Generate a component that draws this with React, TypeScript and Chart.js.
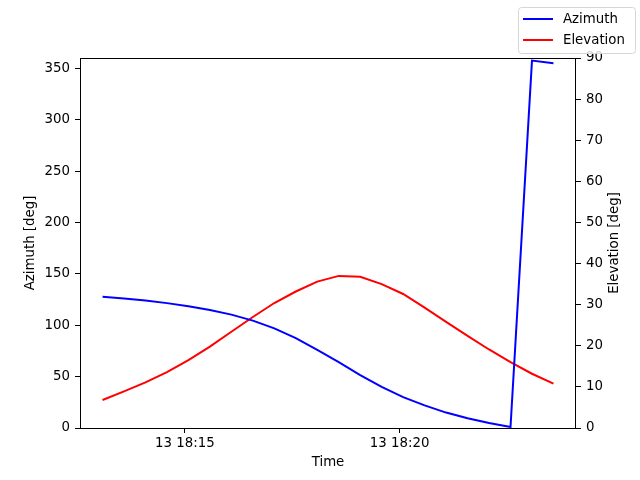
import React, { useEffect, useRef } from 'react';
import Chart from 'chart.js/auto';

// sample times (day 13), every 30 s
const times = [
  '18:13:05', '18:13:35', '18:14:05', '18:14:35', '18:15:05', '18:15:35',
  '18:16:05', '18:16:35', '18:17:05', '18:17:35', '18:18:05', '18:18:35',
  '18:19:05', '18:19:35', '18:20:05', '18:20:35', '18:21:05', '18:21:35',
  '18:22:05', '18:22:35', '18:23:05', '18:23:35'
];
const azimuth = [
  127.7, 126.0, 124.0, 121.5, 118.5, 114.8, 110.3, 104.5, 97.0, 87.5, 76.0,
  64.0, 51.5, 40.0, 30.0, 22.0, 15.0, 9.5, 4.8, 1.0, 357.5, 355.0
];
const elevation = [
  6.8, 8.9, 11.1, 13.6, 16.5, 19.8, 23.4, 27.0, 30.4, 33.2, 35.6,
  37.0, 36.8, 35.0, 32.6, 29.3, 25.8, 22.4, 19.1, 16.0, 13.2, 10.8
];
const xTicks = ['18:15', '18:20'];
const dayLabel = '13';
const azTicks = [0, 50, 100, 150, 200, 250, 300, 350];
const elTicks = [0, 10, 20, 30, 40, 50, 60, 70, 80, 90];
const rightTitle = 'Elevation [deg]';

const toMinutes = (t: string) => {
  const [h, m, s] = t.split(':').map(Number);
  return (h - 18) * 60 + m + (s || 0) / 60;
};

const FONT = { family: 'DejaVu Sans', size: 13.33 };
const CSS_FONT = `${FONT.size}px "${FONT.family}"`;

const framePlugin = {
  id: 'frame',
  afterDatasetsDraw(chart: any) {
    const { ctx, chartArea: a } = chart;
    ctx.save();
    ctx.strokeStyle = '#000';
    ctx.lineWidth = 1;
    ctx.strokeRect(Math.round(a.left) + 0.5, Math.round(a.top) + 0.5,
      Math.round(a.right - a.left) - 1, Math.round(a.bottom - a.top));
    ctx.restore();
  }
};

// right-hand axis title, reading bottom to top like matplotlib's twinx label
const rightTitlePlugin = {
  id: 'rightTitle',
  afterDraw(chart: any) {
    const { ctx, chartArea: a } = chart;
    ctx.save();
    ctx.translate(615, (a.top + a.bottom) / 2);
    ctx.rotate(-Math.PI / 2);
    ctx.font = CSS_FONT;
    ctx.fillStyle = '#000';
    ctx.textAlign = 'center';
    ctx.textBaseline = 'middle';
    ctx.fillText(rightTitle, 0, 0);
    ctx.restore();
  }
};

const figLegend = {
  id: 'figLegend',
  afterDraw(chart: any) {
    const { ctx } = chart;
    const x = 518.5, y = 7.5, w = 117, h = 46, r = 3;
    ctx.save();
    ctx.beginPath();
    ctx.moveTo(x + r, y);
    ctx.arcTo(x + w, y, x + w, y + h, r);
    ctx.arcTo(x + w, y + h, x, y + h, r);
    ctx.arcTo(x, y + h, x, y, r);
    ctx.arcTo(x, y, x + w, y, r);
    ctx.closePath();
    ctx.fillStyle = 'rgba(255,255,255,0.8)';
    ctx.fill();
    ctx.strokeStyle = '#d6d6d6';
    ctx.lineWidth = 1;
    ctx.stroke();

    ctx.font = CSS_FONT;
    ctx.textBaseline = 'middle';
    ctx.fillStyle = '#000';
    chart.data.datasets.forEach((ds: any, i: number) => {
      const ly = 19 + i * 21;
      ctx.strokeStyle = ds.borderColor;
      ctx.lineWidth = 2;
      ctx.beginPath();
      ctx.moveTo(523, ly);
      ctx.lineTo(553, ly);
      ctx.stroke();
      ctx.fillText(ds.label, 563, ly + 1);
    });
    ctx.restore();
  }
};

export default function App() {
  const canvasRef = useRef<HTMLCanvasElement | null>(null);

  useEffect(() => {
    if (!canvasRef.current) return;
    const xs = times.map(toMinutes);
    const x0 = xs[0], x1 = xs[xs.length - 1];
    const pad = (x1 - x0) * 0.05;

    const tickStyle = {
      drawOnChartArea: false,
      drawTicks: true,
      tickLength: 5,
      color: '#000',
      tickColor: '#000',
      lineWidth: 1
    };

    const chart = new Chart(canvasRef.current, {
      type: 'line',
      data: {
        datasets: [
          {
            label: 'Azimuth',
            data: xs.map((x, i) => ({ x, y: azimuth[i] })),
            borderColor: '#0000ff',
            borderWidth: 2,
            pointRadius: 0,
            tension: 0,
            yAxisID: 'y'
          },
          {
            label: 'Elevation',
            data: xs.map((x, i) => ({ x, y: elevation[i] })),
            borderColor: '#ff0000',
            borderWidth: 2,
            pointRadius: 0,
            tension: 0,
            yAxisID: 'y1'
          }
        ]
      },
      options: {
        responsive: false,
        animation: false,
        layout: { padding: { top: 58, left: 0, right: 0, bottom: 0 } },
        plugins: { legend: { display: false }, tooltip: { enabled: false } },
        scales: {
          x: {
            type: 'linear',
            min: x0 - pad,
            max: x1 + pad,
            grid: tickStyle,
            border: { display: false },
            afterBuildTicks: (s: any) => {
              s.ticks = xTicks.map(t => ({ value: toMinutes(t) }));
            },
            ticks: {
              color: '#000',
              font: FONT,
              padding: 3,
              maxRotation: 0,
              callback: (v: any) => {
                const m = Math.round(Number(v));
                return `${dayLabel} 18:${String(m).padStart(2, '0')}`;
              }
            },
            title: {
              display: true,
              text: 'Time',
              color: '#000',
              font: FONT,
              padding: { top: 4, bottom: 9 }
            },
            afterFit: (s: any) => { s.height = 52; }
          },
          y: {
            position: 'left',
            min: 0,
            max: 360,
            grid: tickStyle,
            border: { display: false },
            afterBuildTicks: (s: any) => { s.ticks = azTicks.map(value => ({ value })); },
            ticks: { color: '#000', font: FONT, padding: 5 },
            title: {
              display: true,
              text: 'Azimuth [deg]',
              color: '#000',
              font: FONT,
              padding: { top: 23, bottom: 4 }
            },
            afterFit: (s: any) => { s.width = 80; }
          },
          y1: {
            position: 'right',
            min: 0,
            max: 90,
            grid: tickStyle,
            border: { display: false },
            afterBuildTicks: (s: any) => { s.ticks = elTicks.map(value => ({ value })); },
            ticks: { color: '#000', font: FONT, padding: 5 },
            afterFit: (s: any) => { s.width = 64; }
          }
        }
      },
      plugins: [framePlugin, rightTitlePlugin, figLegend]
    });

    return () => chart.destroy();
  }, []);

  return (
    <div style={{ position: 'absolute', left: 0, top: 0, width: 640, height: 480, background: '#fff' }}>
      <canvas ref={canvasRef} width={640} height={480} style={{ display: 'block' }} />
    </div>
  );
}
